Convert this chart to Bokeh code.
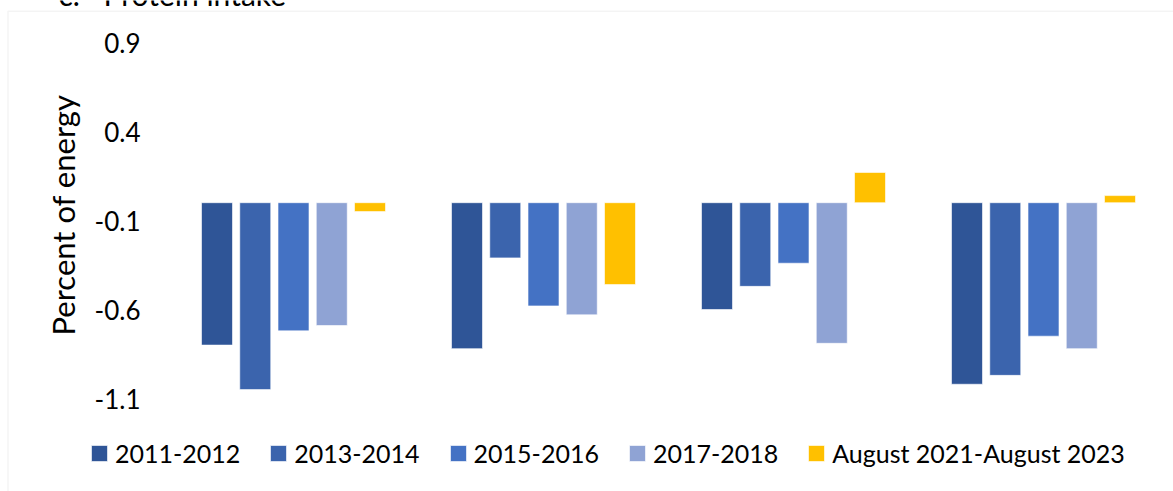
from bokeh.plotting import figure
from bokeh.models import (Legend, LegendItem, Label, BoxAnnotation, ColumnDataSource,
                          FixedTicker, Range1d, LinearAxis)
from bokeh.transform import dodge
from bokeh.embed import file_html
from bokeh.resources import INLINE

# ---------------- data ----------------
groups = ["Group 1", "Group 2", "Group 3", "Group 4"]
series = ["2011-2012", "2013-2014", "2015-2016", "2017-2018", "August 2021-August 2023"]
v_2011_2012 = [-0.80, -0.82, -0.60, -1.02]
v_2013_2014 = [-1.05, -0.31, -0.47, -0.97]
v_2015_2016 = [-0.72, -0.58, -0.34, -0.75]
v_2017_2018 = [-0.69, -0.63, -0.79, -0.82]
v_2021_2023 = [-0.05, -0.46, 0.17, 0.04]
y_ticks = [-1.1, -0.6, -0.1, 0.4, 0.9]
y_tick_labels = ["-1.1", "-0.6", "-0.1", "0.4", "0.9"]
title_number = "c."
title_text = "Protein intake"
y_title = "Percent of energy"

colors = ["#2F5597", "#3B64AD", "#4472C4", "#8FA3D4", "#FFC000"]

FONT = "Lato"
BORDER = "#D9D9D9"

# ---------------- layout geometry (pixels) ----------------
W, H = 1173, 491
PLOT_LEFT = 168        # left edge of the category area
CAT_W = 250            # width of one category
Y_TOP_PX, Y_BOT_PX = 42, 398   # pixel rows of the top / bottom tick
y_max, y_min = max(y_ticks), min(y_ticks)
PPU = (Y_BOT_PX - Y_TOP_PX) / (y_max - y_min)


def px_x(px):
    return (px - PLOT_LEFT) / CAT_W


def px_y(py):
    return y_max - (py - Y_TOP_PX) / PPU


x_pos = [i + 0.5 for i in range(len(groups))]

source = ColumnDataSource(data=dict(
    group=groups, xpos=x_pos,
    s0=v_2011_2012, s1=v_2013_2014, s2=v_2015_2016, s3=v_2017_2018, s4=v_2021_2023,
))

p = figure(
    x_range=Range1d(px_x(0), px_x(W)),
    y_range=Range1d(px_y(H), px_y(0)),
    width=W, height=H,
    output_backend="svg", toolbar_location=None,
    x_axis_location=None, y_axis_location=None,
    min_border=0,
)
p.outline_line_color = None
p.xgrid.visible = False
p.ygrid.visible = False

pitch = 0.153
bar_w = 0.124
renderers = []
for i, (name, col) in enumerate(zip(series, colors)):
    r = p.vbar(x=dodge("xpos", (i - 2) * pitch), top="s%d" % i, bottom=0,
               width=bar_w, source=source, fill_color=col,
               line_color="white", line_width=1, line_alpha=0.6)
    renderers.append((name, r))

yax = LinearAxis(fixed_location=0, bounds=(y_min, 0.96))
yax.ticker = FixedTicker(ticks=y_ticks)
yax.major_label_overrides = {t: s for t, s in zip(y_ticks, y_tick_labels)}
yax.axis_line_color = None
yax.major_tick_line_color = None
yax.minor_tick_line_color = None
yax.major_tick_out = 0
yax.major_tick_in = 0
yax.major_label_standoff = 28
yax.major_label_text_font = FONT
yax.major_label_text_font_size = "26px"
yax.major_label_text_color = "#000000"
yax.axis_label = y_title
yax.axis_label_text_font = FONT
yax.axis_label_text_font_size = "31px"
yax.axis_label_text_font_style = "normal"
yax.axis_label_text_color = "#000000"
yax.axis_label_standoff = 10
p.add_layout(yax, "left")

legend = Legend(
    items=[LegendItem(label=n, renderers=[r]) for n, r in renderers],
    orientation="horizontal",
    location=(89, 23),
    label_text_font=FONT, label_text_font_size="25px", label_text_color="#000000",
    glyph_width=20, glyph_height=20, label_standoff=6, spacing=28,
    padding=0, margin=0, border_line_color=None, background_fill_alpha=0,
)
p.add_layout(legend, "center")

border = BoxAnnotation(left=px_x(7.5), top=px_y(10.7), right=px_x(W + 20), bottom=px_y(H + 20),
                       fill_alpha=0, line_color=BORDER, line_width=1.5)
p.add_layout(border)

for txt, xp in ((title_number, 58), (title_text, 103)):
    p.add_layout(Label(x=px_x(xp), y=px_y(-6.5), text=txt, text_font=FONT,
                       text_font_size="30px", text_color="#000000",
                       text_baseline="alphabetic", text_align="left"))

open("out.html", "w").write(file_html(p, INLINE))
